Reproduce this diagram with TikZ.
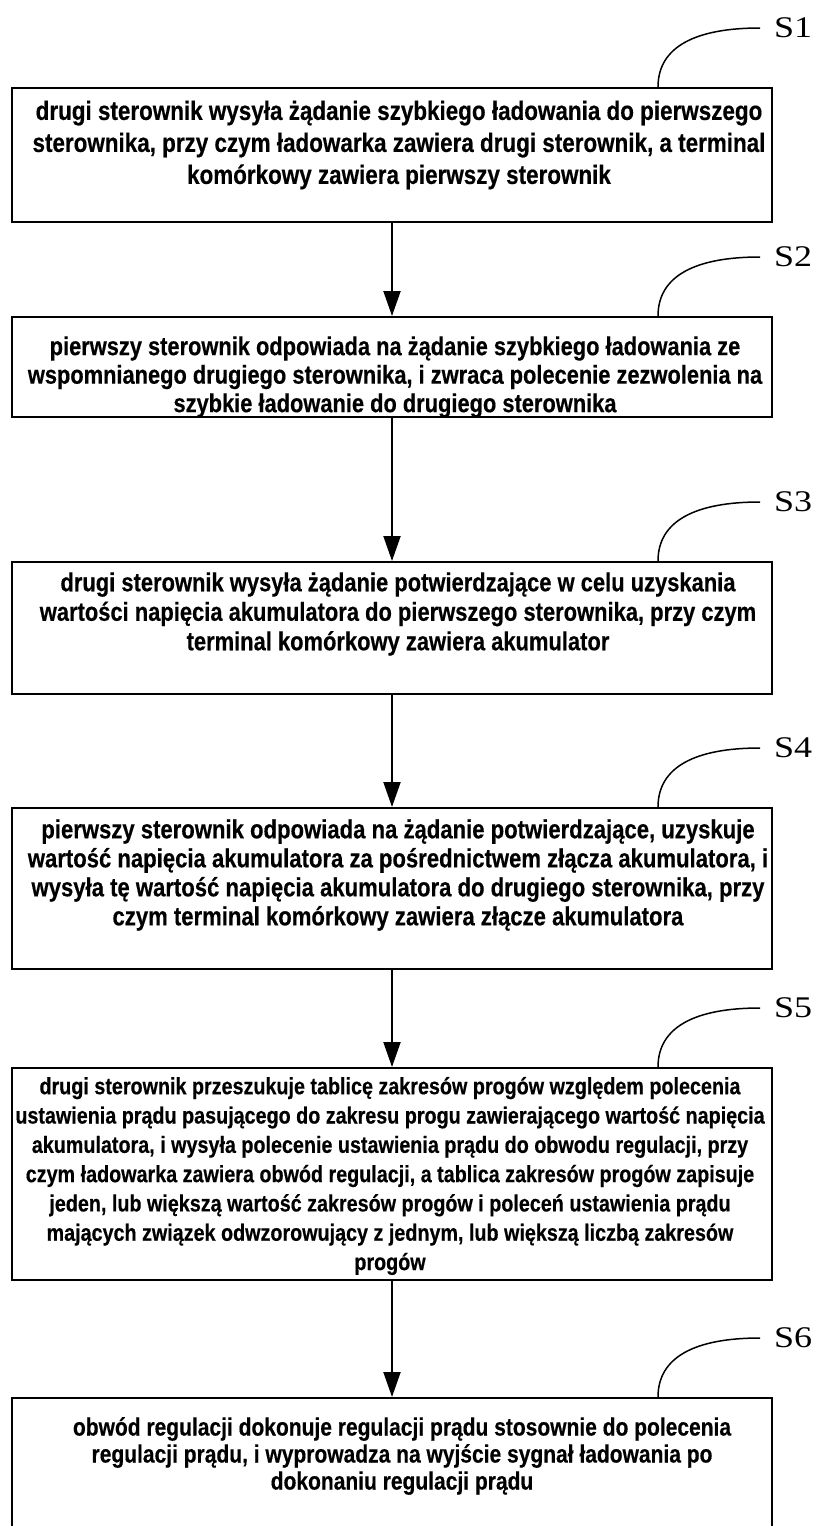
\documentclass[tikz,border=0pt]{standalone}
\usepackage{fontspec}
\setmainfont{Liberation Sans}
\newfontfamily\boxfont[FakeStretch=0.84, FakeBold=0.4]{Liberation Sans}
\newfontfamily\labelfont[FakeStretch=1.2]{Liberation Serif}
\usetikzlibrary{arrows.meta}

\tikzset{
  stepbox/.style={draw=black, line width=2pt, rectangle, minimum width=760pt, inner sep=0pt},
  steptext/.style={align=center, inner sep=0pt, text=black},
  flow/.style={line width=2pt, -{Triangle[width=17pt,length=25pt]}},
  callout/.style={line width=1.5pt},
  steplabel/.style={anchor=west, inner sep=0pt, font=\labelfont\fontsize{30}{30}\selectfont}
}
% text sizes per step: size / line distance
\newcommand{\stepfont}[2]{\boxfont\bfseries\fontsize{#1}{#2}\selectfont}

\begin{document}
\begin{tikzpicture}[x=1pt,y=-1pt]
\clip (0,0) rectangle (822,1526);
\fill[white] (0,0) rectangle (822,1526);

% step frames
\node[stepbox, minimum height=134pt] (b1) at (392,155) {};
\node[stepbox, minimum height=100pt] (b2) at (392,367) {};
\node[stepbox, minimum height=132pt] (b3) at (392,628) {};
\node[stepbox, minimum height=161pt] (b4) at (392,888.5) {};
\node[stepbox, minimum height=212pt] (b5) at (392,1174) {};
\node[stepbox, minimum height=150pt] (b6) at (392,1473) {};

% step descriptions
\node[steptext, font=\stepfont{26.7}{32}] (t1) at (399,145) {drugi sterownik wysyła żądanie szybkiego ładowania do pierwszego\\
sterownika, przy czym ładowarka zawiera drugi sterownik, a terminal\\
komórkowy zawiera pierwszy sterownik};

\node[steptext, font=\stepfont{26}{28.5}] (t2) at (395,377) {pierwszy sterownik odpowiada na żądanie szybkiego ładowania ze\\
wspomnianego drugiego sterownika, i zwraca polecenie zezwolenia na\\
szybkie ładowanie do drugiego sterownika};

\node[steptext, font=\stepfont{26.1}{29.5}] (t3) at (398,614) {drugi sterownik wysyła żądanie potwierdzające w celu uzyskania\\
wartości napięcia akumulatora do pierwszego sterownika, przy czym\\
terminal komórkowy zawiera akumulator};

\node[steptext, font=\stepfont{26.3}{29}] (t4) at (398,875) {pierwszy sterownik odpowiada na żądanie potwierdzające, uzyskuje\\
wartość napięcia akumulatora za pośrednictwem złącza akumulatora, i\\
wysyła tę wartość napięcia akumulatora do drugiego sterownika, przy\\
czym terminal komórkowy zawiera złącze akumulatora};

\node[steptext, font=\stepfont{23.5}{29.3}] (t5) at (390,1176) {drugi sterownik przeszukuje tablicę zakresów progów względem polecenia\\
ustawienia prądu pasującego do zakresu progu zawierającego wartość napięcia\\
akumulatora, i wysyła polecenie ustawienia prądu do obwodu regulacji, przy\\
czym ładowarka zawiera obwód regulacji, a tablica zakresów progów zapisuje\\
jeden, lub większą wartość zakresów progów i poleceń ustawienia prądu\\
mających związek odwzorowujący z jednym, lub większą liczbą zakresów\\
progów};

\node[steptext, font=\stepfont{25}{27}] (t6) at (402,1456) {obwód regulacji dokonuje regulacji prądu stosownie do polecenia\\
regulacji prądu, i wyprowadza na wyjście sygnał ładowania po\\
dokonaniu regulacji prądu};

% flow arrows
\draw[flow] (b1.south) -- (b2.north);
\draw[flow] (b2.south) -- (b3.north);
\draw[flow] (b3.south) -- (b4.north);
\draw[flow] (b4.south) -- (b5.north);
\draw[flow] (b5.south) -- (b6.north);

% step labels with their leader curves
\foreach \i/\top in {1/88, 2/317, 3/562, 4/808, 5/1068, 6/1398} {
  \coordinate (e\i) at (760,\top-60);
  \node[steplabel] (s\i) at ([xshift=14pt]e\i) {S\i};
  \draw[callout] ([xshift=266pt]b\i.north) .. controls +(0,-40) and +(-65,0) .. (e\i);
}
\end{tikzpicture}
\end{document}
